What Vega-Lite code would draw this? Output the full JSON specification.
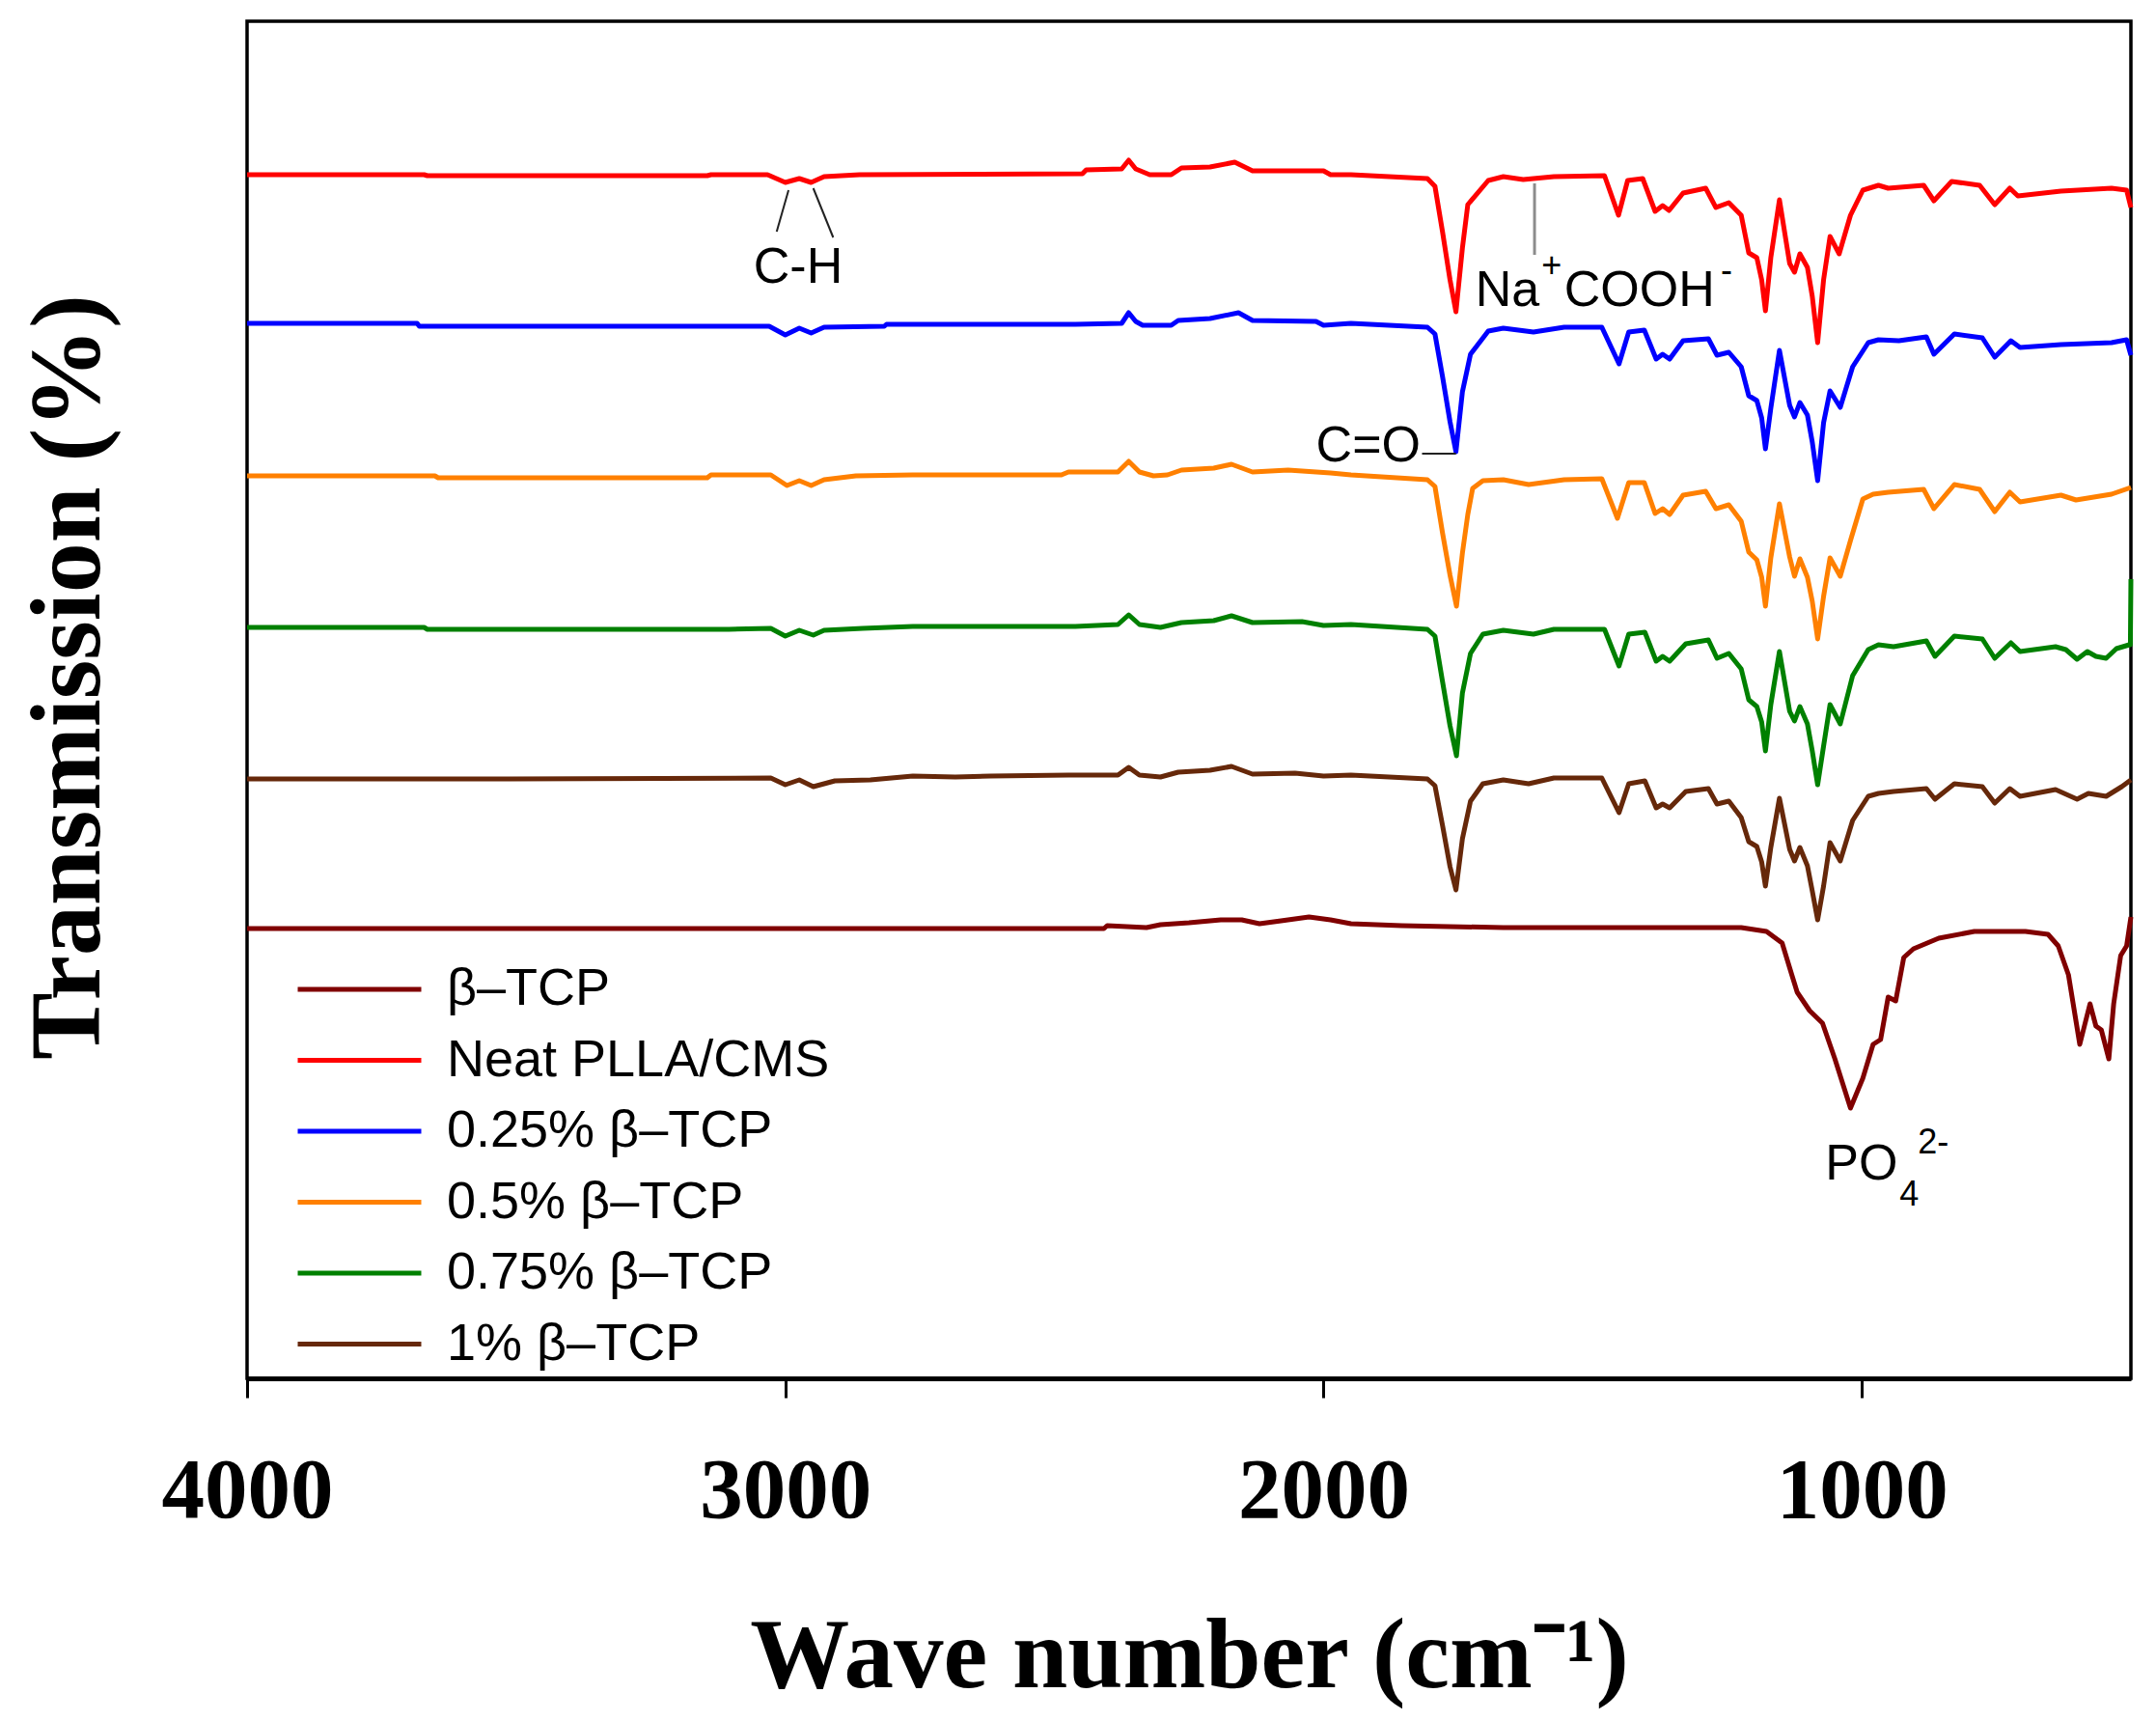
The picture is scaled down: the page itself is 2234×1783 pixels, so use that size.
{
  "$schema": "https://vega.github.io/schema/vega-lite/v6.json",
  "description": "FTIR spectra of PLLA/CMS with beta-TCP",
  "autosize": {"type": "none"},
  "padding": {"left": 256, "top": 22, "right": 26, "bottom": 355},
  "width": 1952,
  "height": 1406,
  "background": "white",
  "config": {
    "view": {"stroke": "black", "strokeWidth": 3.5},
    "axis": {"grid": false}
  },
  "encoding": {
    "x": {
      "field": "wn", "type": "quantitative",
      "scale": {"domain": [500, 4000], "reverse": true, "nice": false, "zero": false},
      "axis": {
        "title": "Wave number (cm⁻¹)",
        "values": [1000, 2000, 3000, 4000],
        "format": "d",
        "labelFont": "Liberation Serif", "labelFontSize": 89, "labelFontWeight": "bold", "labelColor": "black",
        "labelFlush": false, "labelOverlap": false, "labelBaseline": "alphabetic", "labelPadding": 123,
        "tickSize": 20, "tickWidth": 3, "tickColor": "black",
        "domainColor": "black", "domainWidth": 5,
        "titleFont": "Liberation Serif", "titleFontSize": 103, "titleFontWeight": "bold", "titleColor": "black",
        "titleBaseline": "alphabetic", "titleY": 319
      }
    },
    "y": {
      "field": "T", "type": "quantitative",
      "scale": {"domain": [0, 1406], "nice": false, "zero": false},
      "axis": {
        "title": "Transmission (%)",
        "labels": false, "ticks": false, "domain": false,
        "titleFont": "Liberation Serif", "titleFontSize": 104, "titleFontWeight": "bold", "titleColor": "black",
        "titleBaseline": "alphabetic", "titleAngle": -90, "titleX": -154, "titleY": 679
      }
    }
  },
  "layer": [
    {
      "data": {"name": "spectra"},
      "mark": {"type": "line", "strokeWidth": 5, "strokeJoin": "round"},
      "encoding": {
        "color": {
          "field": "sample", "type": "nominal",
          "scale": {
            "domain": ["β–TCP", "Neat PLLA/CMS", "0.25% β–TCP", "0.5% β–TCP", "0.75% β–TCP", "1% β–TCP"],
            "range": ["#800000", "#ff0000", "#0000ff", "#ff8000", "#008000", "#66280a"]
          },
          "legend": {
            "orient": "none", "legendX": 50, "legendY": 969, "title": null,
            "symbolType": "stroke", "symbolSize": 16384, "symbolStrokeWidth": 5,
            "clipHeight": 68, "rowPadding": 5.5, "padding": 0,
            "labelFont": "Liberation Sans", "labelFontSize": 54, "labelColor": "black",
            "labelOffset": 24, "labelLimit": 0
          }
        }
      }
    },
    {
      "data": {"name": "links"},
      "mark": {"type": "rule", "color": "#222222", "strokeWidth": 2},
      "encoding": {"x2": {"field": "wn2"}, "y2": {"field": "T2"}}
    },
    {
      "data": {"name": "naLink"},
      "mark": {"type": "rule", "color": "#8c8c8c", "strokeWidth": 3},
      "encoding": {"x2": {"field": "wn2"}, "y2": {"field": "T2"}}
    },
    {
      "data": {"name": "labels"},
      "mark": {"type": "text", "align": "left", "baseline": "alphabetic", "font": "Liberation Sans", "fontSize": 52, "color": "black"},
      "encoding": {"text": {"field": "label"}}
    },
    {
      "data": {"name": "scripts"},
      "mark": {"type": "text", "align": "left", "baseline": "alphabetic", "font": "Liberation Sans", "fontSize": 36, "color": "black"},
      "encoding": {"text": {"field": "label"}}
    }
  ],
  "datasets": {
    "links": [
      {"wn": 2994, "T": 1231, "wn2": 3016, "T2": 1188},
      {"wn": 2948, "T": 1233, "wn2": 2911, "T2": 1182},
      {"wn": 1817, "T": 958, "wn2": 1754, "T2": 958}
    ],
    "naLink": [
      {"wn": 1608, "T": 1238, "wn2": 1608, "T2": 1164}
    ],
    "labels": [
      {"label": "C-H", "wn": 3059, "T": 1135},
      {"label": "C=O", "wn": 2014, "T": 950},
      {"label": "Na", "wn": 1718, "T": 1111},
      {"label": "COOH", "wn": 1553, "T": 1111},
      {"label": "PO", "wn": 1068, "T": 206}
    ],
    "scripts": [
      {"label": "+", "wn": 1595, "T": 1141},
      {"label": "-", "wn": 1262, "T": 1136},
      {"label": "4", "wn": 930, "T": 179},
      {"label": "2-", "wn": 896, "T": 233}
    ],
    "spectra": [
      {"sample": "Neat PLLA/CMS", "wn": 4000, "T": 1247},
      {"sample": "Neat PLLA/CMS", "wn": 3671, "T": 1247},
      {"sample": "Neat PLLA/CMS", "wn": 3665, "T": 1246},
      {"sample": "Neat PLLA/CMS", "wn": 3145, "T": 1246},
      {"sample": "Neat PLLA/CMS", "wn": 3138, "T": 1247},
      {"sample": "Neat PLLA/CMS", "wn": 3033, "T": 1247},
      {"sample": "Neat PLLA/CMS", "wn": 3000, "T": 1239},
      {"sample": "Neat PLLA/CMS", "wn": 2974, "T": 1243},
      {"sample": "Neat PLLA/CMS", "wn": 2952, "T": 1239},
      {"sample": "Neat PLLA/CMS", "wn": 2928, "T": 1245},
      {"sample": "Neat PLLA/CMS", "wn": 2862, "T": 1247},
      {"sample": "Neat PLLA/CMS", "wn": 2448, "T": 1248},
      {"sample": "Neat PLLA/CMS", "wn": 2441, "T": 1252},
      {"sample": "Neat PLLA/CMS", "wn": 2375, "T": 1253},
      {"sample": "Neat PLLA/CMS", "wn": 2362, "T": 1262},
      {"sample": "Neat PLLA/CMS", "wn": 2349, "T": 1253},
      {"sample": "Neat PLLA/CMS", "wn": 2323, "T": 1247},
      {"sample": "Neat PLLA/CMS", "wn": 2283, "T": 1247},
      {"sample": "Neat PLLA/CMS", "wn": 2264, "T": 1254},
      {"sample": "Neat PLLA/CMS", "wn": 2211, "T": 1255},
      {"sample": "Neat PLLA/CMS", "wn": 2165, "T": 1260},
      {"sample": "Neat PLLA/CMS", "wn": 2132, "T": 1251},
      {"sample": "Neat PLLA/CMS", "wn": 2000, "T": 1251},
      {"sample": "Neat PLLA/CMS", "wn": 1987, "T": 1247},
      {"sample": "Neat PLLA/CMS", "wn": 1949, "T": 1247},
      {"sample": "Neat PLLA/CMS", "wn": 1807, "T": 1243},
      {"sample": "Neat PLLA/CMS", "wn": 1793, "T": 1235},
      {"sample": "Neat PLLA/CMS", "wn": 1779, "T": 1188},
      {"sample": "Neat PLLA/CMS", "wn": 1765, "T": 1138},
      {"sample": "Neat PLLA/CMS", "wn": 1754, "T": 1105},
      {"sample": "Neat PLLA/CMS", "wn": 1742, "T": 1171},
      {"sample": "Neat PLLA/CMS", "wn": 1732, "T": 1216},
      {"sample": "Neat PLLA/CMS", "wn": 1694, "T": 1241},
      {"sample": "Neat PLLA/CMS", "wn": 1666, "T": 1245},
      {"sample": "Neat PLLA/CMS", "wn": 1629, "T": 1242},
      {"sample": "Neat PLLA/CMS", "wn": 1572, "T": 1245},
      {"sample": "Neat PLLA/CMS", "wn": 1478, "T": 1246},
      {"sample": "Neat PLLA/CMS", "wn": 1452, "T": 1205},
      {"sample": "Neat PLLA/CMS", "wn": 1435, "T": 1241},
      {"sample": "Neat PLLA/CMS", "wn": 1407, "T": 1243},
      {"sample": "Neat PLLA/CMS", "wn": 1384, "T": 1209},
      {"sample": "Neat PLLA/CMS", "wn": 1370, "T": 1215},
      {"sample": "Neat PLLA/CMS", "wn": 1358, "T": 1210},
      {"sample": "Neat PLLA/CMS", "wn": 1332, "T": 1228},
      {"sample": "Neat PLLA/CMS", "wn": 1290, "T": 1233},
      {"sample": "Neat PLLA/CMS", "wn": 1271, "T": 1213},
      {"sample": "Neat PLLA/CMS", "wn": 1247, "T": 1218},
      {"sample": "Neat PLLA/CMS", "wn": 1224, "T": 1205},
      {"sample": "Neat PLLA/CMS", "wn": 1210, "T": 1166},
      {"sample": "Neat PLLA/CMS", "wn": 1195, "T": 1161},
      {"sample": "Neat PLLA/CMS", "wn": 1186, "T": 1138},
      {"sample": "Neat PLLA/CMS", "wn": 1179, "T": 1106},
      {"sample": "Neat PLLA/CMS", "wn": 1169, "T": 1161},
      {"sample": "Neat PLLA/CMS", "wn": 1153, "T": 1221},
      {"sample": "Neat PLLA/CMS", "wn": 1134, "T": 1155},
      {"sample": "Neat PLLA/CMS", "wn": 1125, "T": 1146},
      {"sample": "Neat PLLA/CMS", "wn": 1115, "T": 1165},
      {"sample": "Neat PLLA/CMS", "wn": 1101, "T": 1151},
      {"sample": "Neat PLLA/CMS", "wn": 1092, "T": 1121},
      {"sample": "Neat PLLA/CMS", "wn": 1082, "T": 1073},
      {"sample": "Neat PLLA/CMS", "wn": 1071, "T": 1138},
      {"sample": "Neat PLLA/CMS", "wn": 1059, "T": 1183},
      {"sample": "Neat PLLA/CMS", "wn": 1042, "T": 1165},
      {"sample": "Neat PLLA/CMS", "wn": 1021, "T": 1205},
      {"sample": "Neat PLLA/CMS", "wn": 998, "T": 1231},
      {"sample": "Neat PLLA/CMS", "wn": 969, "T": 1236},
      {"sample": "Neat PLLA/CMS", "wn": 951, "T": 1233},
      {"sample": "Neat PLLA/CMS", "wn": 885, "T": 1236},
      {"sample": "Neat PLLA/CMS", "wn": 866, "T": 1220},
      {"sample": "Neat PLLA/CMS", "wn": 833, "T": 1240},
      {"sample": "Neat PLLA/CMS", "wn": 781, "T": 1236},
      {"sample": "Neat PLLA/CMS", "wn": 753, "T": 1216},
      {"sample": "Neat PLLA/CMS", "wn": 725, "T": 1233},
      {"sample": "Neat PLLA/CMS", "wn": 710, "T": 1225},
      {"sample": "Neat PLLA/CMS", "wn": 630, "T": 1230},
      {"sample": "Neat PLLA/CMS", "wn": 536, "T": 1233},
      {"sample": "Neat PLLA/CMS", "wn": 508, "T": 1231},
      {"sample": "Neat PLLA/CMS", "wn": 500, "T": 1213},

      {"sample": "0.25% β–TCP", "wn": 4000, "T": 1093},
      {"sample": "0.25% β–TCP", "wn": 3684, "T": 1093},
      {"sample": "0.25% β–TCP", "wn": 3680, "T": 1090},
      {"sample": "0.25% β–TCP", "wn": 3030, "T": 1090},
      {"sample": "0.25% β–TCP", "wn": 3000, "T": 1081},
      {"sample": "0.25% β–TCP", "wn": 2974, "T": 1088},
      {"sample": "0.25% β–TCP", "wn": 2952, "T": 1083},
      {"sample": "0.25% β–TCP", "wn": 2928, "T": 1089},
      {"sample": "0.25% β–TCP", "wn": 2816, "T": 1090},
      {"sample": "0.25% β–TCP", "wn": 2812, "T": 1092},
      {"sample": "0.25% β–TCP", "wn": 2461, "T": 1092},
      {"sample": "0.25% β–TCP", "wn": 2375, "T": 1093},
      {"sample": "0.25% β–TCP", "wn": 2362, "T": 1104},
      {"sample": "0.25% β–TCP", "wn": 2349, "T": 1095},
      {"sample": "0.25% β–TCP", "wn": 2336, "T": 1091},
      {"sample": "0.25% β–TCP", "wn": 2283, "T": 1091},
      {"sample": "0.25% β–TCP", "wn": 2270, "T": 1096},
      {"sample": "0.25% β–TCP", "wn": 2211, "T": 1098},
      {"sample": "0.25% β–TCP", "wn": 2158, "T": 1104},
      {"sample": "0.25% β–TCP", "wn": 2132, "T": 1096},
      {"sample": "0.25% β–TCP", "wn": 2014, "T": 1095},
      {"sample": "0.25% β–TCP", "wn": 2000, "T": 1091},
      {"sample": "0.25% β–TCP", "wn": 1949, "T": 1093},
      {"sample": "0.25% β–TCP", "wn": 1807, "T": 1089},
      {"sample": "0.25% β–TCP", "wn": 1793, "T": 1082},
      {"sample": "0.25% β–TCP", "wn": 1779, "T": 1038},
      {"sample": "0.25% β–TCP", "wn": 1765, "T": 991},
      {"sample": "0.25% β–TCP", "wn": 1754, "T": 960},
      {"sample": "0.25% β–TCP", "wn": 1742, "T": 1022},
      {"sample": "0.25% β–TCP", "wn": 1727, "T": 1061},
      {"sample": "0.25% β–TCP", "wn": 1694, "T": 1085},
      {"sample": "0.25% β–TCP", "wn": 1666, "T": 1088},
      {"sample": "0.25% β–TCP", "wn": 1610, "T": 1084},
      {"sample": "0.25% β–TCP", "wn": 1553, "T": 1089},
      {"sample": "0.25% β–TCP", "wn": 1483, "T": 1089},
      {"sample": "0.25% β–TCP", "wn": 1451, "T": 1051},
      {"sample": "0.25% β–TCP", "wn": 1433, "T": 1084},
      {"sample": "0.25% β–TCP", "wn": 1404, "T": 1086},
      {"sample": "0.25% β–TCP", "wn": 1382, "T": 1056},
      {"sample": "0.25% β–TCP", "wn": 1370, "T": 1061},
      {"sample": "0.25% β–TCP", "wn": 1357, "T": 1056},
      {"sample": "0.25% β–TCP", "wn": 1332, "T": 1075},
      {"sample": "0.25% β–TCP", "wn": 1285, "T": 1077},
      {"sample": "0.25% β–TCP", "wn": 1269, "T": 1060},
      {"sample": "0.25% β–TCP", "wn": 1247, "T": 1063},
      {"sample": "0.25% β–TCP", "wn": 1224, "T": 1048},
      {"sample": "0.25% β–TCP", "wn": 1210, "T": 1018},
      {"sample": "0.25% β–TCP", "wn": 1195, "T": 1013},
      {"sample": "0.25% β–TCP", "wn": 1186, "T": 995},
      {"sample": "0.25% β–TCP", "wn": 1179, "T": 963},
      {"sample": "0.25% β–TCP", "wn": 1169, "T": 1005},
      {"sample": "0.25% β–TCP", "wn": 1153, "T": 1065},
      {"sample": "0.25% β–TCP", "wn": 1134, "T": 1008},
      {"sample": "0.25% β–TCP", "wn": 1125, "T": 996},
      {"sample": "0.25% β–TCP", "wn": 1115, "T": 1011},
      {"sample": "0.25% β–TCP", "wn": 1101, "T": 998},
      {"sample": "0.25% β–TCP", "wn": 1092, "T": 970},
      {"sample": "0.25% β–TCP", "wn": 1082, "T": 930},
      {"sample": "0.25% β–TCP", "wn": 1071, "T": 990},
      {"sample": "0.25% β–TCP", "wn": 1059, "T": 1023},
      {"sample": "0.25% β–TCP", "wn": 1040, "T": 1006},
      {"sample": "0.25% β–TCP", "wn": 1017, "T": 1048},
      {"sample": "0.25% β–TCP", "wn": 988, "T": 1073},
      {"sample": "0.25% β–TCP", "wn": 969, "T": 1076},
      {"sample": "0.25% β–TCP", "wn": 931, "T": 1075},
      {"sample": "0.25% β–TCP", "wn": 880, "T": 1079},
      {"sample": "0.25% β–TCP", "wn": 866, "T": 1061},
      {"sample": "0.25% β–TCP", "wn": 828, "T": 1082},
      {"sample": "0.25% β–TCP", "wn": 776, "T": 1078},
      {"sample": "0.25% β–TCP", "wn": 753, "T": 1058},
      {"sample": "0.25% β–TCP", "wn": 723, "T": 1075},
      {"sample": "0.25% β–TCP", "wn": 706, "T": 1068},
      {"sample": "0.25% β–TCP", "wn": 630, "T": 1071},
      {"sample": "0.25% β–TCP", "wn": 536, "T": 1073},
      {"sample": "0.25% β–TCP", "wn": 508, "T": 1076},
      {"sample": "0.25% β–TCP", "wn": 500, "T": 1060},

      {"sample": "0.5% β–TCP", "wn": 4000, "T": 935},
      {"sample": "0.5% β–TCP", "wn": 3651, "T": 935},
      {"sample": "0.5% β–TCP", "wn": 3645, "T": 933},
      {"sample": "0.5% β–TCP", "wn": 3145, "T": 933},
      {"sample": "0.5% β–TCP", "wn": 3138, "T": 936},
      {"sample": "0.5% β–TCP", "wn": 3027, "T": 936},
      {"sample": "0.5% β–TCP", "wn": 2997, "T": 925},
      {"sample": "0.5% β–TCP", "wn": 2974, "T": 930},
      {"sample": "0.5% β–TCP", "wn": 2952, "T": 925},
      {"sample": "0.5% β–TCP", "wn": 2928, "T": 931},
      {"sample": "0.5% β–TCP", "wn": 2869, "T": 935},
      {"sample": "0.5% β–TCP", "wn": 2763, "T": 936},
      {"sample": "0.5% β–TCP", "wn": 2487, "T": 936},
      {"sample": "0.5% β–TCP", "wn": 2474, "T": 939},
      {"sample": "0.5% β–TCP", "wn": 2382, "T": 939},
      {"sample": "0.5% β–TCP", "wn": 2362, "T": 950},
      {"sample": "0.5% β–TCP", "wn": 2342, "T": 939},
      {"sample": "0.5% β–TCP", "wn": 2316, "T": 935},
      {"sample": "0.5% β–TCP", "wn": 2290, "T": 936},
      {"sample": "0.5% β–TCP", "wn": 2264, "T": 941},
      {"sample": "0.5% β–TCP", "wn": 2204, "T": 943},
      {"sample": "0.5% β–TCP", "wn": 2171, "T": 947},
      {"sample": "0.5% β–TCP", "wn": 2132, "T": 939},
      {"sample": "0.5% β–TCP", "wn": 2066, "T": 941},
      {"sample": "0.5% β–TCP", "wn": 1987, "T": 938},
      {"sample": "0.5% β–TCP", "wn": 1949, "T": 936},
      {"sample": "0.5% β–TCP", "wn": 1807, "T": 931},
      {"sample": "0.5% β–TCP", "wn": 1793, "T": 924},
      {"sample": "0.5% β–TCP", "wn": 1779, "T": 876},
      {"sample": "0.5% β–TCP", "wn": 1765, "T": 832},
      {"sample": "0.5% β–TCP", "wn": 1753, "T": 800},
      {"sample": "0.5% β–TCP", "wn": 1742, "T": 855},
      {"sample": "0.5% β–TCP", "wn": 1732, "T": 895},
      {"sample": "0.5% β–TCP", "wn": 1723, "T": 922},
      {"sample": "0.5% β–TCP", "wn": 1704, "T": 930},
      {"sample": "0.5% β–TCP", "wn": 1666, "T": 931},
      {"sample": "0.5% β–TCP", "wn": 1619, "T": 926},
      {"sample": "0.5% β–TCP", "wn": 1553, "T": 931},
      {"sample": "0.5% β–TCP", "wn": 1483, "T": 932},
      {"sample": "0.5% β–TCP", "wn": 1454, "T": 891},
      {"sample": "0.5% β–TCP", "wn": 1433, "T": 928},
      {"sample": "0.5% β–TCP", "wn": 1404, "T": 928},
      {"sample": "0.5% β–TCP", "wn": 1384, "T": 896},
      {"sample": "0.5% β–TCP", "wn": 1370, "T": 901},
      {"sample": "0.5% β–TCP", "wn": 1357, "T": 895},
      {"sample": "0.5% β–TCP", "wn": 1332, "T": 915},
      {"sample": "0.5% β–TCP", "wn": 1290, "T": 919},
      {"sample": "0.5% β–TCP", "wn": 1271, "T": 901},
      {"sample": "0.5% β–TCP", "wn": 1247, "T": 905},
      {"sample": "0.5% β–TCP", "wn": 1224, "T": 888},
      {"sample": "0.5% β–TCP", "wn": 1210, "T": 856},
      {"sample": "0.5% β–TCP", "wn": 1195, "T": 848},
      {"sample": "0.5% β–TCP", "wn": 1186, "T": 830},
      {"sample": "0.5% β–TCP", "wn": 1179, "T": 800},
      {"sample": "0.5% β–TCP", "wn": 1169, "T": 850},
      {"sample": "0.5% β–TCP", "wn": 1153, "T": 906},
      {"sample": "0.5% β–TCP", "wn": 1134, "T": 851},
      {"sample": "0.5% β–TCP", "wn": 1125, "T": 831},
      {"sample": "0.5% β–TCP", "wn": 1115, "T": 849},
      {"sample": "0.5% β–TCP", "wn": 1101, "T": 830},
      {"sample": "0.5% β–TCP", "wn": 1092, "T": 805},
      {"sample": "0.5% β–TCP", "wn": 1082, "T": 766},
      {"sample": "0.5% β–TCP", "wn": 1071, "T": 810},
      {"sample": "0.5% β–TCP", "wn": 1059, "T": 850},
      {"sample": "0.5% β–TCP", "wn": 1040, "T": 831},
      {"sample": "0.5% β–TCP", "wn": 1021, "T": 868},
      {"sample": "0.5% β–TCP", "wn": 998, "T": 911},
      {"sample": "0.5% β–TCP", "wn": 979, "T": 916},
      {"sample": "0.5% β–TCP", "wn": 951, "T": 918},
      {"sample": "0.5% β–TCP", "wn": 885, "T": 921},
      {"sample": "0.5% β–TCP", "wn": 866, "T": 901},
      {"sample": "0.5% β–TCP", "wn": 828, "T": 926},
      {"sample": "0.5% β–TCP", "wn": 781, "T": 921},
      {"sample": "0.5% β–TCP", "wn": 753, "T": 898},
      {"sample": "0.5% β–TCP", "wn": 725, "T": 918},
      {"sample": "0.5% β–TCP", "wn": 706, "T": 908},
      {"sample": "0.5% β–TCP", "wn": 630, "T": 915},
      {"sample": "0.5% β–TCP", "wn": 602, "T": 910},
      {"sample": "0.5% β–TCP", "wn": 536, "T": 916},
      {"sample": "0.5% β–TCP", "wn": 500, "T": 923},

      {"sample": "0.75% β–TCP", "wn": 4000, "T": 778},
      {"sample": "0.75% β–TCP", "wn": 3671, "T": 778},
      {"sample": "0.75% β–TCP", "wn": 3665, "T": 776},
      {"sample": "0.75% β–TCP", "wn": 3105, "T": 776},
      {"sample": "0.75% β–TCP", "wn": 3027, "T": 777},
      {"sample": "0.75% β–TCP", "wn": 3000, "T": 769},
      {"sample": "0.75% β–TCP", "wn": 2974, "T": 775},
      {"sample": "0.75% β–TCP", "wn": 2948, "T": 770},
      {"sample": "0.75% β–TCP", "wn": 2928, "T": 775},
      {"sample": "0.75% β–TCP", "wn": 2856, "T": 777},
      {"sample": "0.75% β–TCP", "wn": 2763, "T": 779},
      {"sample": "0.75% β–TCP", "wn": 2461, "T": 779},
      {"sample": "0.75% β–TCP", "wn": 2382, "T": 781},
      {"sample": "0.75% β–TCP", "wn": 2362, "T": 791},
      {"sample": "0.75% β–TCP", "wn": 2342, "T": 781},
      {"sample": "0.75% β–TCP", "wn": 2303, "T": 778},
      {"sample": "0.75% β–TCP", "wn": 2264, "T": 783},
      {"sample": "0.75% β–TCP", "wn": 2204, "T": 785},
      {"sample": "0.75% β–TCP", "wn": 2171, "T": 790},
      {"sample": "0.75% β–TCP", "wn": 2132, "T": 783},
      {"sample": "0.75% β–TCP", "wn": 2040, "T": 784},
      {"sample": "0.75% β–TCP", "wn": 2000, "T": 780},
      {"sample": "0.75% β–TCP", "wn": 1949, "T": 781},
      {"sample": "0.75% β–TCP", "wn": 1807, "T": 776},
      {"sample": "0.75% β–TCP", "wn": 1793, "T": 769},
      {"sample": "0.75% β–TCP", "wn": 1779, "T": 722},
      {"sample": "0.75% β–TCP", "wn": 1765, "T": 676},
      {"sample": "0.75% β–TCP", "wn": 1753, "T": 645},
      {"sample": "0.75% β–TCP", "wn": 1742, "T": 710},
      {"sample": "0.75% β–TCP", "wn": 1727, "T": 751},
      {"sample": "0.75% β–TCP", "wn": 1704, "T": 771},
      {"sample": "0.75% β–TCP", "wn": 1666, "T": 775},
      {"sample": "0.75% β–TCP", "wn": 1610, "T": 771},
      {"sample": "0.75% β–TCP", "wn": 1572, "T": 776},
      {"sample": "0.75% β–TCP", "wn": 1478, "T": 776},
      {"sample": "0.75% β–TCP", "wn": 1451, "T": 738},
      {"sample": "0.75% β–TCP", "wn": 1433, "T": 771},
      {"sample": "0.75% β–TCP", "wn": 1403, "T": 773},
      {"sample": "0.75% β–TCP", "wn": 1382, "T": 743},
      {"sample": "0.75% β–TCP", "wn": 1370, "T": 748},
      {"sample": "0.75% β–TCP", "wn": 1357, "T": 743},
      {"sample": "0.75% β–TCP", "wn": 1327, "T": 761},
      {"sample": "0.75% β–TCP", "wn": 1285, "T": 765},
      {"sample": "0.75% β–TCP", "wn": 1269, "T": 746},
      {"sample": "0.75% β–TCP", "wn": 1247, "T": 751},
      {"sample": "0.75% β–TCP", "wn": 1224, "T": 735},
      {"sample": "0.75% β–TCP", "wn": 1210, "T": 703},
      {"sample": "0.75% β–TCP", "wn": 1195, "T": 696},
      {"sample": "0.75% β–TCP", "wn": 1186, "T": 680},
      {"sample": "0.75% β–TCP", "wn": 1179, "T": 650},
      {"sample": "0.75% β–TCP", "wn": 1169, "T": 698},
      {"sample": "0.75% β–TCP", "wn": 1153, "T": 753},
      {"sample": "0.75% β–TCP", "wn": 1134, "T": 691},
      {"sample": "0.75% β–TCP", "wn": 1125, "T": 681},
      {"sample": "0.75% β–TCP", "wn": 1115, "T": 696},
      {"sample": "0.75% β–TCP", "wn": 1101, "T": 678},
      {"sample": "0.75% β–TCP", "wn": 1092, "T": 650},
      {"sample": "0.75% β–TCP", "wn": 1082, "T": 615},
      {"sample": "0.75% β–TCP", "wn": 1071, "T": 655},
      {"sample": "0.75% β–TCP", "wn": 1059, "T": 698},
      {"sample": "0.75% β–TCP", "wn": 1040, "T": 678},
      {"sample": "0.75% β–TCP", "wn": 1017, "T": 728},
      {"sample": "0.75% β–TCP", "wn": 988, "T": 755},
      {"sample": "0.75% β–TCP", "wn": 969, "T": 760},
      {"sample": "0.75% β–TCP", "wn": 941, "T": 758},
      {"sample": "0.75% β–TCP", "wn": 880, "T": 764},
      {"sample": "0.75% β–TCP", "wn": 864, "T": 748},
      {"sample": "0.75% β–TCP", "wn": 828, "T": 769},
      {"sample": "0.75% β–TCP", "wn": 776, "T": 766},
      {"sample": "0.75% β–TCP", "wn": 753, "T": 746},
      {"sample": "0.75% β–TCP", "wn": 723, "T": 762},
      {"sample": "0.75% β–TCP", "wn": 706, "T": 753},
      {"sample": "0.75% β–TCP", "wn": 640, "T": 758},
      {"sample": "0.75% β–TCP", "wn": 621, "T": 755},
      {"sample": "0.75% β–TCP", "wn": 600, "T": 745},
      {"sample": "0.75% β–TCP", "wn": 581, "T": 753},
      {"sample": "0.75% β–TCP", "wn": 565, "T": 748},
      {"sample": "0.75% β–TCP", "wn": 546, "T": 746},
      {"sample": "0.75% β–TCP", "wn": 527, "T": 756},
      {"sample": "0.75% β–TCP", "wn": 503, "T": 760},
      {"sample": "0.75% β–TCP", "wn": 501, "T": 760},
      {"sample": "0.75% β–TCP", "wn": 500, "T": 828},

      {"sample": "1% β–TCP", "wn": 4000, "T": 621},
      {"sample": "1% β–TCP", "wn": 3513, "T": 621},
      {"sample": "1% β–TCP", "wn": 3027, "T": 622},
      {"sample": "1% β–TCP", "wn": 3000, "T": 615},
      {"sample": "1% β–TCP", "wn": 2974, "T": 620},
      {"sample": "1% β–TCP", "wn": 2948, "T": 613},
      {"sample": "1% β–TCP", "wn": 2908, "T": 619},
      {"sample": "1% β–TCP", "wn": 2842, "T": 620},
      {"sample": "1% β–TCP", "wn": 2763, "T": 624},
      {"sample": "1% β–TCP", "wn": 2684, "T": 623},
      {"sample": "1% β–TCP", "wn": 2619, "T": 624},
      {"sample": "1% β–TCP", "wn": 2474, "T": 625},
      {"sample": "1% β–TCP", "wn": 2382, "T": 625},
      {"sample": "1% β–TCP", "wn": 2362, "T": 633},
      {"sample": "1% β–TCP", "wn": 2342, "T": 625},
      {"sample": "1% β–TCP", "wn": 2303, "T": 623},
      {"sample": "1% β–TCP", "wn": 2270, "T": 628},
      {"sample": "1% β–TCP", "wn": 2211, "T": 630},
      {"sample": "1% β–TCP", "wn": 2171, "T": 634},
      {"sample": "1% β–TCP", "wn": 2132, "T": 626},
      {"sample": "1% β–TCP", "wn": 2053, "T": 627},
      {"sample": "1% β–TCP", "wn": 2000, "T": 624},
      {"sample": "1% β–TCP", "wn": 1949, "T": 625},
      {"sample": "1% β–TCP", "wn": 1807, "T": 621},
      {"sample": "1% β–TCP", "wn": 1793, "T": 614},
      {"sample": "1% β–TCP", "wn": 1779, "T": 573},
      {"sample": "1% β–TCP", "wn": 1765, "T": 530},
      {"sample": "1% β–TCP", "wn": 1754, "T": 506},
      {"sample": "1% β–TCP", "wn": 1742, "T": 559},
      {"sample": "1% β–TCP", "wn": 1727, "T": 598},
      {"sample": "1% β–TCP", "wn": 1704, "T": 616},
      {"sample": "1% β–TCP", "wn": 1666, "T": 620},
      {"sample": "1% β–TCP", "wn": 1619, "T": 616},
      {"sample": "1% β–TCP", "wn": 1572, "T": 622},
      {"sample": "1% β–TCP", "wn": 1483, "T": 622},
      {"sample": "1% β–TCP", "wn": 1451, "T": 586},
      {"sample": "1% β–TCP", "wn": 1433, "T": 616},
      {"sample": "1% β–TCP", "wn": 1403, "T": 619},
      {"sample": "1% β–TCP", "wn": 1382, "T": 591},
      {"sample": "1% β–TCP", "wn": 1370, "T": 595},
      {"sample": "1% β–TCP", "wn": 1357, "T": 591},
      {"sample": "1% β–TCP", "wn": 1327, "T": 608},
      {"sample": "1% β–TCP", "wn": 1285, "T": 611},
      {"sample": "1% β–TCP", "wn": 1269, "T": 595},
      {"sample": "1% β–TCP", "wn": 1247, "T": 598},
      {"sample": "1% β–TCP", "wn": 1224, "T": 581},
      {"sample": "1% β–TCP", "wn": 1210, "T": 556},
      {"sample": "1% β–TCP", "wn": 1195, "T": 551},
      {"sample": "1% β–TCP", "wn": 1186, "T": 535},
      {"sample": "1% β–TCP", "wn": 1179, "T": 510},
      {"sample": "1% β–TCP", "wn": 1169, "T": 550},
      {"sample": "1% β–TCP", "wn": 1153, "T": 601},
      {"sample": "1% β–TCP", "wn": 1134, "T": 548},
      {"sample": "1% β–TCP", "wn": 1125, "T": 536},
      {"sample": "1% β–TCP", "wn": 1115, "T": 550},
      {"sample": "1% β–TCP", "wn": 1101, "T": 531},
      {"sample": "1% β–TCP", "wn": 1092, "T": 505},
      {"sample": "1% β–TCP", "wn": 1082, "T": 475},
      {"sample": "1% β–TCP", "wn": 1071, "T": 510},
      {"sample": "1% β–TCP", "wn": 1059, "T": 555},
      {"sample": "1% β–TCP", "wn": 1040, "T": 536},
      {"sample": "1% β–TCP", "wn": 1017, "T": 578},
      {"sample": "1% β–TCP", "wn": 988, "T": 603},
      {"sample": "1% β–TCP", "wn": 969, "T": 606},
      {"sample": "1% β–TCP", "wn": 941, "T": 608},
      {"sample": "1% β–TCP", "wn": 880, "T": 611},
      {"sample": "1% β–TCP", "wn": 864, "T": 600},
      {"sample": "1% β–TCP", "wn": 828, "T": 616},
      {"sample": "1% β–TCP", "wn": 776, "T": 613},
      {"sample": "1% β–TCP", "wn": 753, "T": 596},
      {"sample": "1% β–TCP", "wn": 725, "T": 611},
      {"sample": "1% β–TCP", "wn": 706, "T": 603},
      {"sample": "1% β–TCP", "wn": 640, "T": 610},
      {"sample": "1% β–TCP", "wn": 600, "T": 600},
      {"sample": "1% β–TCP", "wn": 579, "T": 606},
      {"sample": "1% β–TCP", "wn": 546, "T": 603},
      {"sample": "1% β–TCP", "wn": 517, "T": 613},
      {"sample": "1% β–TCP", "wn": 500, "T": 620},

      {"sample": "β–TCP", "wn": 4000, "T": 466},
      {"sample": "β–TCP", "wn": 2408, "T": 466},
      {"sample": "β–TCP", "wn": 2402, "T": 469},
      {"sample": "β–TCP", "wn": 2329, "T": 467},
      {"sample": "β–TCP", "wn": 2303, "T": 470},
      {"sample": "β–TCP", "wn": 2250, "T": 472},
      {"sample": "β–TCP", "wn": 2191, "T": 475},
      {"sample": "β–TCP", "wn": 2152, "T": 475},
      {"sample": "β–TCP", "wn": 2119, "T": 471},
      {"sample": "β–TCP", "wn": 2079, "T": 474},
      {"sample": "β–TCP", "wn": 2027, "T": 478},
      {"sample": "β–TCP", "wn": 1987, "T": 475},
      {"sample": "β–TCP", "wn": 1949, "T": 471},
      {"sample": "β–TCP", "wn": 1855, "T": 469},
      {"sample": "β–TCP", "wn": 1666, "T": 467},
      {"sample": "β–TCP", "wn": 1224, "T": 467},
      {"sample": "β–TCP", "wn": 1177, "T": 463},
      {"sample": "β–TCP", "wn": 1148, "T": 451},
      {"sample": "β–TCP", "wn": 1130, "T": 418},
      {"sample": "β–TCP", "wn": 1120, "T": 400},
      {"sample": "β–TCP", "wn": 1097, "T": 381},
      {"sample": "β–TCP", "wn": 1073, "T": 368},
      {"sample": "β–TCP", "wn": 1050, "T": 331},
      {"sample": "β–TCP", "wn": 1021, "T": 280},
      {"sample": "β–TCP", "wn": 998, "T": 311},
      {"sample": "β–TCP", "wn": 979, "T": 346},
      {"sample": "β–TCP", "wn": 965, "T": 351},
      {"sample": "β–TCP", "wn": 951, "T": 395},
      {"sample": "β–TCP", "wn": 937, "T": 391},
      {"sample": "β–TCP", "wn": 922, "T": 436},
      {"sample": "β–TCP", "wn": 904, "T": 445},
      {"sample": "β–TCP", "wn": 857, "T": 456},
      {"sample": "β–TCP", "wn": 791, "T": 463},
      {"sample": "β–TCP", "wn": 696, "T": 463},
      {"sample": "β–TCP", "wn": 654, "T": 460},
      {"sample": "β–TCP", "wn": 635, "T": 448},
      {"sample": "β–TCP", "wn": 616, "T": 418},
      {"sample": "β–TCP", "wn": 595, "T": 346},
      {"sample": "β–TCP", "wn": 576, "T": 388},
      {"sample": "β–TCP", "wn": 565, "T": 365},
      {"sample": "β–TCP", "wn": 555, "T": 361},
      {"sample": "β–TCP", "wn": 541, "T": 331},
      {"sample": "β–TCP", "wn": 532, "T": 388},
      {"sample": "β–TCP", "wn": 519, "T": 438},
      {"sample": "β–TCP", "wn": 508, "T": 448},
      {"sample": "β–TCP", "wn": 500, "T": 478}
    ]
  }
}
